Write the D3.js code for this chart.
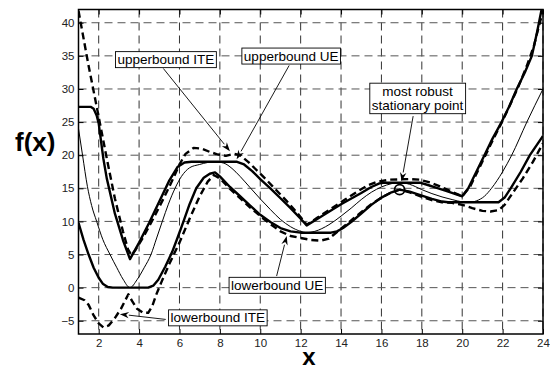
<!DOCTYPE html>
<html>
<head>
<meta charset="utf-8">
<script src="https://cdn.jsdelivr.net/npm/d3@7"></script>
<style>
  body { margin: 0; background: #fff; }
  svg { display: block; font-family: 'Liberation Sans', Arial, sans-serif; }
</style>
</head>
<body>
<svg id="chart" width="550" height="367"></svg>
<script>
// original function f(x) (thin line)
const fX = [1, 1.2, 1.44, 1.65, 1.9, 2.2, 2.56, 2.9, 3.2, 3.55, 3.9, 4.25, 4.59, 4.87, 5.15, 5.45, 5.78, 6.1, 6.5, 7.0, 7.4, 7.8, 8.2, 8.6, 9, 9.5, 10, 10.5, 11, 11.5, 12, 12.3, 12.7, 13.4, 14, 14.5, 15, 15.5, 16, 16.5, 16.9, 17.4, 18, 18.5, 19, 19.5, 20, 20.3, 20.7, 21.1, 21.45, 22, 22.45, 23.2, 24]
const fY = [24, 20, 15.3, 12.4, 10, 7.3, 5, 3, 1.3, 0, 1.2, 3, 5, 7.5, 10, 12.6, 15, 16.8, 18.1, 18.6, 18.9, 19.0, 18.8, 18.0, 16.8, 15.1, 13.4, 11.8, 10.3, 9.2, 8.5, 8.3, 8.5, 9.5, 10.8, 12.0, 13.3, 14.4, 15.2, 15.7, 15.85, 15.6, 14.8, 14.2, 13.7, 13.3, 12.95, 12.85, 13.1, 13.8, 15, 17.5, 20, 25, 30]

// upperbound UE (thick solid)
const upUeX = [1, 1.6, 1.75, 1.9, 2.0, 2.23, 2.4, 2.8, 3.2, 3.55, 4.0, 4.5, 5.0, 5.5, 5.9, 6.25, 6.6, 8.85, 9.2, 9.6, 10, 10.5, 11, 11.5, 12, 12.3, 13, 14, 15, 15.5, 15.9, 16.2, 17.9, 18.3, 18.7, 19.2, 19.6, 20, 20.3, 20.7, 21.1, 21.5, 21.95, 22.35, 22.7, 23.1, 23.45, 23.7, 23.93]
const upUeY = [27.3, 27.3, 27.0, 26.0, 24.8, 19.5, 16.5, 11.2, 7.2, 4.3, 6.8, 9.8, 13.0, 16.2, 18.2, 18.9, 19.0, 19.0, 18.6, 17.6, 16.4, 15.0, 13.5, 12.0, 10.4, 9.4, 10.7, 12.6, 14.3, 15.2, 15.75, 15.85, 15.85, 15.5, 15.1, 14.6, 14.2, 13.8, 15, 17.5, 20, 22.5, 25, 27.5, 30, 32.5, 35, 38.5, 42]

// lowerbound UE (thick solid)
const loUeX = [1, 1.25, 1.5, 1.75, 2.0, 2.2, 2.45, 2.7, 4.45, 4.7, 4.95, 5.3, 5.64, 5.9, 6.2, 6.5, 6.83, 7.2, 7.5, 7.76, 8.0, 8.5, 9.0, 9.5, 10, 10.5, 11.0, 11.5, 12.0, 13.5, 13.8, 14.1, 14.5, 15.0, 15.5, 16.0, 16.5, 16.9, 17.4, 18.0, 18.5, 19.0, 19.3, 21.8, 22.1, 22.4, 22.9, 23.35, 24]
const loUeY = [9.8, 7.2, 5.0, 3.0, 1.5, 0.6, 0.1, 0, 0, 0.3, 1.2, 3.2, 5.4, 7.5, 10, 12.6, 15, 16.6, 17.2, 17.4, 16.8, 15.2, 13.8, 12.4, 11.0, 9.9, 9.0, 8.5, 8.3, 8.3, 8.5, 9.0, 9.9, 11.2, 12.5, 13.6, 14.4, 14.8, 14.5, 13.9, 13.4, 13.0, 12.9, 12.9, 13.6, 15, 17.5, 20, 22.9]

// upperbound ITE (thick dashed)
const upIteX = [1, 1.5, 2.0, 2.4, 2.8, 3.2, 3.45, 3.62, 3.8, 4.2, 4.7, 5.2, 5.6, 6.0, 6.3, 6.7, 7.1, 7.5, 7.9, 8.3, 8.7, 9.0, 9.4, 9.8, 10.3, 10.8, 11.3, 11.8, 12.3, 12.8, 13.5, 14.2, 14.8, 15.3, 15.8, 16.4, 17.4, 17.9, 18.4, 18.9, 19.4, 20.0, 20.4, 20.8, 21.2, 21.6, 22.0, 22.4, 22.8, 23.2, 23.55, 23.8, 24.0]
const upIteY = [41.8, 33.5, 25.8, 19.5, 13.5, 8.5, 5.8, 4.9, 5.6, 7.6, 10.4, 13.4, 15.9, 18.6, 20.2, 21.1, 21.0, 20.5, 20.1, 19.9, 20.2, 20.0, 19.0, 17.8, 16.3, 14.7, 13.1, 11.4, 9.5, 10.5, 11.9, 13.3, 14.5, 15.4, 16.0, 16.3, 16.4, 16.3, 15.9, 15.3, 14.6, 13.8, 15.3, 17.8, 20.3, 22.8, 25.2, 27.8, 30.5, 33.5, 36.5, 39.5, 41.8]

// lowerbound ITE (thick dashed)
const loIteX = [1, 1.3, 1.5, 1.75, 2.0, 2.23, 2.5, 2.8, 3.1, 3.3, 3.47, 3.65, 3.9, 4.2, 4.45, 4.65, 4.87, 5.1, 5.5, 6.0, 6.5, 7.0, 7.4, 7.7, 8.0, 8.5, 9.0, 9.5, 10, 10.5, 11.0, 11.5, 12.0, 12.5, 13.0, 13.4, 13.8, 14.2, 14.6, 15.0, 15.5, 16.0, 16.5, 16.9, 17.4, 18.0, 18.5, 19.0, 19.5, 20.0, 20.5, 21.0, 21.4, 21.8, 22.1, 22.5, 23.0, 23.5, 24.0]
const loIteY = [-1.5, -1.9, -2.6, -4.2, -5.4, -6.0, -5.7, -4.6, -3.2, -2.0, -1.0, -2.0, -3.2, -3.8, -3.8, -2.8, -0.9, 0.8, 3.6, 6.8, 10.4, 13.8, 16.0, 17.0, 16.5, 14.9, 13.5, 12.1, 10.8, 9.6, 8.5, 7.8, 7.5, 7.2, 7.1, 7.4, 8.4, 9.4, 10.4, 11.4, 12.6, 13.6, 14.4, 14.8, 14.4, 13.7, 13.2, 12.9, 12.8, 12.5, 12.0, 11.6, 11.5, 11.7, 12.5, 14.3, 16.5, 19.0, 21.8]

const xTicks = [2, 4, 6, 8, 10, 12, 14, 16, 18, 20, 22, 24]
const yTicks = [-5, 0, 5, 10, 15, 20, 25, 30, 35, 40]

// most robust stationary point
const robustPoint = { x: 16.9, y: 14.8 }

// annotation labels: text position, arrow start, arrow tip (data units)
const notes = [
  { lines: ['upperbound ITE'], cx: 5.33, cy: 34.46, from: [5.2, 33.1], to: [8.5, 20.6] },
  { lines: ['upperbound UE'], cx: 11.53, cy: 35.0, from: [11.43, 33.55], to: [8.83, 19.4] },
  { lines: ['most robust', 'stationary point'], cx: 17.79, cy: 28.6, from: [17.57, 25.9], to: [17.0, 16.05] },
  { lines: ['lowerbound UE'], cx: 10.84, cy: 0.38, from: [10.81, 1.75], to: [11.31, 7.8] },
  { lines: ['lowerbound ITE'], cx: 7.9, cy: -4.53, from: [5.32, -4.8], to: [3.05, -4.0] },
]

const margin = { top: 9.5, right: 7, bottom: 33, left: 78.5 }
const width = 550 - margin.left - margin.right
const height = 367 - margin.top - margin.bottom

const svg = d3.select('#chart')
const g = svg.append('g')
  .attr('transform', `translate(${margin.left},${margin.top})`)

const x = d3.scaleLinear().domain([1, 24]).range([0, width])
const y = d3.scaleLinear().domain([-7, 42]).range([height, 0])

// grid
g.append('g').selectAll('line')
  .data(xTicks)
  .join('line')
    .attr('x1', (d) => x(d)).attr('x2', (d) => x(d))
    .attr('y1', 0).attr('y2', height)
    .attr('stroke', '#333')
    .attr('stroke-dasharray', '8,5')

g.append('g').selectAll('line')
  .data(yTicks)
  .join('line')
    .attr('x1', 0).attr('x2', width)
    .attr('y1', (d) => y(d)).attr('y2', (d) => y(d))
    .attr('stroke', '#555')
    .attr('stroke-dasharray', '8,5')

// axes with inward ticks
const tickLen = 5
g.append('g')
  .attr('transform', `translate(0,${height})`)
  .call(d3.axisBottom(x).tickValues(xTicks).tickSizeInner(-tickLen).tickSizeOuter(0).tickPadding(5))
g.append('g')
  .call(d3.axisLeft(y).tickValues(yTicks).tickSizeInner(-tickLen).tickSizeOuter(0).tickPadding(4))
g.append('g')
  .call(d3.axisTop(x).tickValues(xTicks).tickSizeInner(-tickLen).tickSizeOuter(0).tickFormat(''))
g.append('g')
  .attr('transform', `translate(${width},0)`)
  .call(d3.axisRight(y).tickValues(yTicks).tickSizeInner(-tickLen).tickSizeOuter(0).tickFormat(''))

g.selectAll('.domain').remove()
g.selectAll('.tick line').attr('stroke', '#000')
g.selectAll('.tick text')
  .attr('font-size', 11.5)
  .attr('font-family', "'Liberation Sans', Arial, sans-serif")
  .attr('fill', '#222')

// curves
const clip = svg.append('defs').append('clipPath').attr('id', 'clip')
clip.append('rect').attr('width', width).attr('height', height)

const line = d3.line().x((d) => x(d[0])).y((d) => y(d[1]))
const smooth = d3.line().x((d) => x(d[0])).y((d) => y(d[1])).curve(d3.curveMonotoneX)

const curves = g.append('g').attr('clip-path', 'url(#clip)')
const series = [
  { xs: fX, ys: fY, w: 1, dash: null, gen: smooth },
  { xs: loIteX, ys: loIteY, w: 2.4, dash: '7,4', gen: line },
  { xs: upIteX, ys: upIteY, w: 2.4, dash: '7,4', gen: line },
  { xs: loUeX, ys: loUeY, w: 2.4, dash: null, gen: line },
  { xs: upUeX, ys: upUeY, w: 2.4, dash: null, gen: line },
]
series.forEach((s) => {
  curves.append('path')
    .datum(d3.zip(s.xs, s.ys))
    .attr('fill', 'none')
    .attr('stroke', '#000')
    .attr('stroke-width', s.w)
    .attr('stroke-linejoin', 'round')
    .attr('stroke-dasharray', s.dash)
    .attr('d', s.gen)
})

curves.append('circle')
  .attr('cx', x(robustPoint.x))
  .attr('cy', y(robustPoint.y))
  .attr('r', 5)
  .attr('fill', 'none')
  .attr('stroke', '#000')
  .attr('stroke-width', 1.8)

// plot box
g.append('rect')
  .attr('width', width).attr('height', height)
  .attr('fill', 'none')
  .attr('stroke', '#000')
  .attr('stroke-width', 1.5)

// annotations
const ann = g.append('g')
notes.forEach((n) => {
  const x0 = x(n.from[0]), y0 = y(n.from[1])
  const x1 = x(n.to[0]), y1 = y(n.to[1])
  const ang = Math.atan2(y1 - y0, x1 - x0)
  const hl = 9, hw = 3.2
  const bx = x1 - hl * Math.cos(ang), by = y1 - hl * Math.sin(ang)
  ann.append('line')
    .attr('x1', x0).attr('y1', y0)
    .attr('x2', bx).attr('y2', by)
    .attr('stroke', '#000').attr('stroke-width', 0.9)
  const px = -Math.sin(ang) * hw, py = Math.cos(ang) * hw
  const nx = x1 - hl * 0.7 * Math.cos(ang), ny = y1 - hl * 0.7 * Math.sin(ang)
  ann.append('path')
    .attr('d', `M${x1},${y1}L${bx + px},${by + py}L${nx},${ny}L${bx - px},${by - py}Z`)
    .attr('fill', '#000')

  const box = ann.append('g')
  const lh = 14.5
  const txt = box.append('text')
    .attr('font-size', 13.5)
    .attr('text-anchor', 'middle')
    .attr('fill', '#000')
  n.lines.forEach((l, i) => {
    txt.append('tspan')
      .attr('x', x(n.cx))
      .attr('y', y(n.cy) + 4.7 + (i - (n.lines.length - 1) / 2) * lh)
      .text(l)
  })
  const bb = txt.node().getBBox()
  box.insert('rect', 'text')
    .attr('x', bb.x - 2).attr('y', bb.y - 0.5)
    .attr('width', bb.width + 4).attr('height', bb.height + 1)
    .attr('fill', '#fff')
    .attr('stroke', '#000')
    .attr('stroke-width', 0.9)
})

// axis labels
svg.append('text')
  .attr('x', 15).attr('y', 151)
  .attr('font-size', 26).attr('font-weight', 'bold')
  .text('f(x)')
svg.append('text')
  .attr('x', 309).attr('y', 365)
  .attr('text-anchor', 'middle')
  .attr('font-size', 24).attr('font-weight', 'bold')
  .text('x')
</script>
</body>
</html>
